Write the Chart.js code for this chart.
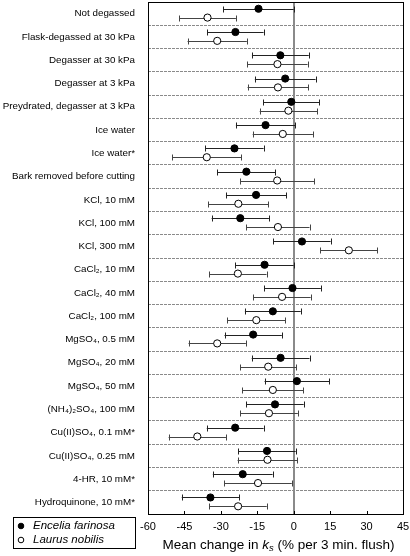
<!DOCTYPE html>
<html>
<head>
<meta charset="utf-8">
<script src="https://cdn.jsdelivr.net/npm/chart.js@4.4.0/dist/chart.umd.min.js"></script>
<style>
  html, body { margin: 0; padding: 0; background: #fff; }
  #wrap { width: 410px; height: 556px; }
</style>
</head>
<body>
<div id="wrap"><canvas id="chart"></canvas></div>
<script>
// treatments, top to bottom
const categories = [
    'Not degassed',
    'Flask-degassed at 30 kPa',
    'Degasser at 30 kPa',
    'Degasser at 3 kPa',
    'Preydrated, degasser at 3 kPa',
    'Ice water',
    'Ice water*',
    'Bark removed before cutting',
    'KCl, 10 mM',
    'KCl, 100 mM',
    'KCl, 300 mM',
    'CaCl\u2082, 10 mM',
    'CaCl\u2082, 40 mM',
    'CaCl\u2082, 100 mM',
    'MgSO\u2084, 0.5 mM',
    'MgSO\u2084, 20 mM',
    'MgSO\u2084, 50 mM',
    '(NH\u2084)\u2082SO\u2084, 100 mM',
    'Cu(II)SO\u2084, 0.1 mM*',
    'Cu(II)SO\u2084, 0.25 mM',
    '4-HR, 10 mM*',
    'Hydroquinone, 10 mM*'
];

// Encelia farinosa (filled)
const enceliaMean = [-14.5, -24, -5.5, -3.5, -1, -11.6, -24.4, -19.5, -15.5, -22, 3.4,
    -12, -0.5, -8.6, -16.7, -5.4, 1.3, -7.7, -24.1, -11, -21, -34.3];
const enceliaErr = [14.5, 11.6, 11.7, 12.5, 11.6, 12.2, 12, 11.9, 12.4, 11.8, 11.8,
    12, 11.7, 11.5, 11.8, 11.9, 13.3, 11.8, 11.7, 11.8, 12.3, 11.8];

// Laurus nobilis (open)
const laurusMean = [-35.5, -31.5, -6.7, -6.5, -2.2, -4.5, -35.8, -6.8, -22.8, -6.5, 22.7,
    -23, -4.8, -15.4, -31.5, -10.5, -8.6, -10.2, -39.7, -10.8, -14.7, -22.9];
const laurusErr = [11.7, 12.2, 12.4, 12.5, 11.8, 12.4, 14.2, 15.2, 12.4, 13, 11.7,
    11.8, 11.8, 12, 11.8, 11.6, 12.5, 11.9, 11.8, 12.3, 13.9, 11.8];

const xTicks = [-60, -45, -30, -15, 0, 15, 30, 45];
const seriesNames = ['Encelia farinosa', 'Laurus nobilis'];

const rows = categories.length;

const errorBars = {
    id: 'errorBars',
    beforeDatasetsDraw(chart) {
        const ctx = chart.ctx;
        const xs = chart.scales.x, ys = chart.scales.y;
        ctx.save();
        chart.data.datasets.forEach(ds => {
            ctx.strokeStyle = ds.barColor;
            ctx.lineWidth = 1;
            ds.data.forEach((p, i) => {
                const y = Math.round(ys.getPixelForValue(p.y)) + 0.5;
                const x1 = xs.getPixelForValue(p.x - ds.err[i]);
                const x2 = xs.getPixelForValue(p.x + ds.err[i]);
                ctx.beginPath();
                ctx.moveTo(x1, y); ctx.lineTo(x2, y);
                ctx.moveTo(Math.round(x1) + 0.5, y - 3); ctx.lineTo(Math.round(x1) + 0.5, y + 3);
                ctx.moveTo(Math.round(x2) + 0.5, y - 3); ctx.lineTo(Math.round(x2) + 0.5, y + 3);
                ctx.stroke();
            });
        });
        ctx.restore();
    }
};

const decorations = {
    id: 'decorations',
    afterDraw(chart) {
        const ctx = chart.ctx;
        const a = chart.chartArea;
        const xs = chart.scales.x;
        ctx.save();
        // frame
        ctx.strokeStyle = '#000';
        ctx.lineWidth = 1;
        ctx.strokeRect(Math.round(a.left) + 0.5, Math.round(a.top) + 0.5,
            Math.round(a.right - a.left), Math.round(a.bottom - a.top));
        // inward ticks at the bottom
        ctx.beginPath();
        xTicks.forEach(v => {
            const x = Math.round(xs.getPixelForValue(v)) + 0.5;
            ctx.moveTo(x, a.bottom); ctx.lineTo(x, a.bottom - 3);
        });
        ctx.stroke();

        // axis title with italic k and subscript s
        const parts = [
            ['Mean change in ', '13.5px "Liberation Sans", Arial, sans-serif', 0],
            ['k', 'italic 13.5px "Liberation Sans", Arial, sans-serif', 0],
            ['s', 'italic 9.5px "Liberation Sans", Arial, sans-serif', 3],
            [' (% per 3 min. flush)', '13.5px "Liberation Sans", Arial, sans-serif', 0]
        ];
        let total = 0;
        parts.forEach(p => { ctx.font = p[1]; total += ctx.measureText(p[0]).width; });
        let tx = (a.left + a.right) / 2 - total / 2 + 3;
        ctx.fillStyle = '#000';
        ctx.textBaseline = 'middle';
        ctx.textAlign = 'left';
        parts.forEach(p => {
            ctx.font = p[1];
            ctx.fillText(p[0], tx, 545 + p[2]);
            tx += ctx.measureText(p[0]).width;
        });

        // legend box
        ctx.strokeRect(13.5, 517.5, 122, 31);
        ctx.font = 'italic 11.5px "Liberation Sans", Arial, sans-serif';
        seriesNames.forEach((name, k) => {
            const ly = 526 + k * 14;
            ctx.beginPath();
            ctx.arc(21, ly, 2.8, 0, Math.PI * 2);
            ctx.fillStyle = k === 0 ? '#000' : '#fff';
            ctx.fill();
            ctx.stroke();
            ctx.fillStyle = '#000';
            ctx.fillText(name, 33, ly);
        });
        ctx.restore();
    }
};

new Chart(document.getElementById('chart'), {
    type: 'scatter',
    data: {
        datasets: [{
            label: seriesNames[0],
            data: enceliaMean.map((v, i) => ({x: v, y: i + 0.29})),
            err: enceliaErr,
            barColor: '#222',
            pointRadius: 3.6,
            pointHoverRadius: 3.6,
            backgroundColor: '#000',
            borderColor: '#000',
            borderWidth: 1
        }, {
            label: seriesNames[1],
            data: laurusMean.map((v, i) => ({x: v, y: i + 0.67})),
            err: laurusErr,
            barColor: '#444',
            pointRadius: 3.6,
            pointHoverRadius: 3.6,
            backgroundColor: '#fff',
            borderColor: '#000',
            borderWidth: 1
        }]
    },
    options: {
        responsive: true,
        maintainAspectRatio: false,
        animation: false,
        layout: { autoPadding: false, padding: { left: 2, right: 7, top: 2, bottom: 0 } },
        plugins: { legend: { display: false }, tooltip: { enabled: false } },
        scales: {
            x: {
                type: 'linear',
                min: -60,
                max: 45,
                afterBuildTicks: scale => { scale.ticks = xTicks.map(v => ({value: v})); },
                afterFit: scale => {
                    scale.height = 42;
                    scale.paddingLeft = 0;
                    scale.paddingRight = 0;
                },
                ticks: {
                    color: '#000',
                    padding: 6,
                    font: { family: '"Liberation Sans", Arial, sans-serif', size: 11 }
                },
                grid: {
                    drawTicks: false,
                    color: c => (c.tick && c.tick.value === 0) ? '#8a8a8a' : 'rgba(0,0,0,0)',
                    lineWidth: c => (c.tick && c.tick.value === 0) ? 2 : 1
                },
                border: { display: false }
            },
            y: {
                type: 'linear',
                min: 0,
                max: rows,
                reverse: true,
                afterBuildTicks: scale => {
                    const t = [];
                    for (let v = 0; v <= rows * 2; v++) t.push({value: v / 2});
                    scale.ticks = t;
                },
                afterFit: scale => {
                    scale.width = 146;
                    scale.paddingTop = 0;
                    scale.paddingBottom = 0;
                },
                ticks: {
                    autoSkip: false,
                    color: '#000',
                    padding: 13,
                    font: { family: '"Liberation Sans", Arial, sans-serif', size: 9.8 },
                    callback: v => Number.isInteger(v) ? '' : categories[Math.floor(v)]
                },
                grid: {
                    drawTicks: false,
                    color: c => (c.tick && Number.isInteger(c.tick.value) && c.tick.value > 0 && c.tick.value < rows)
                        ? '#8a8a8a' : 'rgba(0,0,0,0)'
                },
                border: { display: false, dash: [3, 1] }
            }
        }
    },
    plugins: [errorBars, decorations]
});
</script>
</body>
</html>
